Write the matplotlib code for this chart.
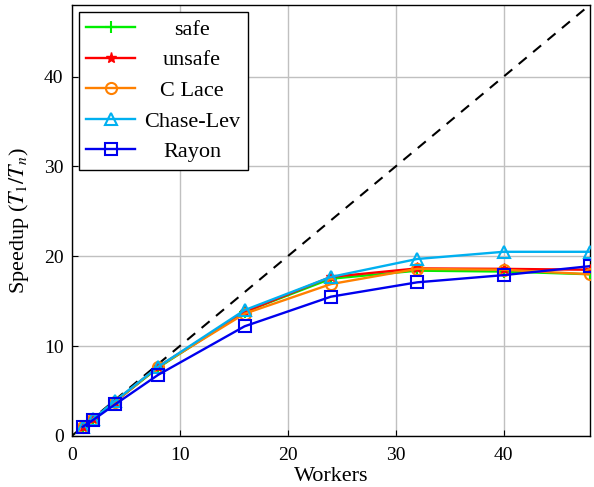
import matplotlib
matplotlib.use("Agg")
import matplotlib.pyplot as plt

plt.rcParams['font.family'] = ['Liberation Serif', 'DejaVu Serif']
plt.rcParams['mathtext.fontset'] = 'stix'

workers = [1, 2, 4, 8, 16, 24, 32, 40, 48]
safe = [1.0, 1.9, 3.8, 7.6, 13.8, 17.5, 18.4, 18.3, 18.0]
unsafe = [1.0, 1.9, 3.8, 7.7, 13.8, 17.7, 18.65, 18.6, 18.5]
c_lace = [1.0, 1.9, 3.8, 7.7, 13.6, 16.9, 18.6, 18.5, 18.0]
chase_lev = [1.0, 1.9, 3.9, 7.7, 14.0, 17.7, 19.7, 20.5, 20.5]
rayon = [1.0, 1.8, 3.5, 6.8, 12.2, 15.5, 17.1, 17.9, 18.9]
ideal = [0, 48]

fig = plt.figure(figsize=(5.94, 4.87), dpi=100)
ax = fig.add_axes([0.121, 0.105, 0.872, 0.885])

ax.plot(ideal, ideal, '--', color='black', lw=1.5, dashes=(5, 4), zorder=2)
ax.plot(workers, safe, color='#00ee00', marker='+', ms=9, mew=1.5, lw=1.7, label='safe', zorder=3)
ax.plot(workers, unsafe, color='#ff0000', marker='*', ms=8, mew=1.0, lw=1.7, label='unsafe', zorder=3)
ax.plot(workers, c_lace, color='#ff8000', marker='o', ms=8, mfc='none', mew=1.5, lw=1.7, label='C Lace', zorder=3)
ax.plot(workers, chase_lev, color='#00b0f0', marker='^', ms=8, mfc='none', mew=1.5, lw=1.7, label='Chase-Lev', zorder=3)
ax.plot(workers, rayon, color='#0000ee', marker='s', ms=9, mfc='none', mew=1.5, lw=1.7, label='Rayon', zorder=3)

ax.set_xlim(0, 48)
ax.set_ylim(0, 48)
ax.set_xticks([0, 10, 20, 30, 40])
ax.set_yticks([0, 10, 20, 30, 40])
ax.grid(True, color='#c0c0c0', lw=1.0)
ax.set_axisbelow(True)
ax.tick_params(direction='in', labelsize=14, length=4)
ax.tick_params(axis='x', pad=8)
ax.tick_params(axis='y', pad=6)
for s in ax.spines.values():
    s.set_linewidth(1.0)
ax.set_xlabel('Workers', fontsize=16, labelpad=2)
ax.set_ylabel('Speedup ($T_1/T_n$)', fontsize=16, labelpad=9)

leg = ax.legend(loc='upper left', fontsize=16, fancybox=False, edgecolor='black',
                framealpha=1, handlelength=2.2, handletextpad=0.4,
                borderaxespad=0.3, labelspacing=0.45, borderpad=0.35)
leg.get_frame().set_linewidth(1.0)

# centre the legend labels
fig.canvas.draw()
r = fig.canvas.get_renderer()
texts = leg.get_texts()
widths = [t.get_window_extent(r).width for t in texts]
maxw = max(widths)
for t, w in zip(texts, widths):
    t.set_position(((maxw - w) / 2, 0))

fig.savefig('out.png', dpi=100)
